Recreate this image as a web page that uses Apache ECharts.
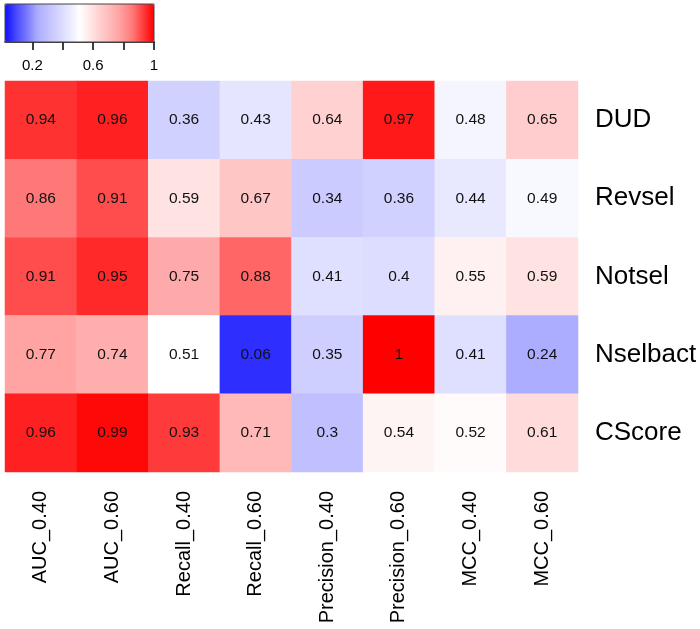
<!DOCTYPE html>
<html>
<head>
<meta charset="utf-8">
<script src="https://cdn.jsdelivr.net/npm/echarts@6/dist/echarts.min.js"></script>
<style>
html,body{margin:0;padding:0;background:#fff;}
#chart{width:700px;height:629px;}
</style>
</head>
<body>
<div id="chart"></div>
<script>
var columns = ['AUC_0.40','AUC_0.60','Recall_0.40','Recall_0.60','Precision_0.40','Precision_0.60','MCC_0.40','MCC_0.60'];
var rows = ['DUD','Revsel','Notsel','Nselbact','CScore'];
var valDUD      = [0.94, 0.96, 0.36, 0.43, 0.64, 0.97, 0.48, 0.65];
var valRevsel   = [0.86, 0.91, 0.59, 0.67, 0.34, 0.36, 0.44, 0.49];
var valNotsel   = [0.91, 0.95, 0.75, 0.88, 0.41, 0.4,  0.55, 0.59];
var valNselbact = [0.77, 0.74, 0.51, 0.06, 0.35, 1,    0.41, 0.24];
var valCScore   = [0.96, 0.99, 0.93, 0.71, 0.3,  0.54, 0.52, 0.61];
var scaleMin = 0.02, scaleMax = 1;
var legendTicks = [0.2, 0.4, 0.6, 0.8, 1];
var legendLabels = [0.2, 0.6, 1];

var rowValues = [valDUD, valRevsel, valNotsel, valNselbact, valCScore];
var data = [];
rowValues.forEach(function (vals, r) {
  vals.forEach(function (v, c) { data.push([c, r, v]); });
});

var colorStops = [
  'rgb(15,15,255)','rgb(70,70,255)','rgb(118,118,255)','rgb(170,170,255)',
  'rgb(192,192,255)','rgb(212,212,255)','rgb(232,232,255)','rgb(255,255,255)',
  'rgb(255,230,230)','rgb(255,205,205)','rgb(255,182,182)','rgb(255,155,155)',
  'rgb(255,120,120)','rgb(255,58,58)','rgb(255,0,0)'
];
var FONT = '"Liberation Sans", Arial, Helvetica, sans-serif';

var chart = echarts.init(document.getElementById('chart'), null, {renderer: 'canvas'});
chart.setOption({
  animation: false,
  backgroundColor: '#fff',
  textStyle: {fontFamily: FONT},
  grid: [
    {left: 5, top: 81, width: 573, height: 391, containLabel: false},
    {left: 5, top: 4, width: 149, height: 38, show: true, borderColor: '#444', borderWidth: 1, backgroundColor: 'transparent', z: 5}
  ],
  xAxis: [
    {
      type: 'category', data: columns, gridIndex: 0, position: 'bottom',
      axisLine: {show: false}, axisTick: {show: false}, splitLine: {show: false},
      axisLabel: {rotate: 90, fontSize: 20, color: '#000', margin: 19, fontFamily: FONT,
                  interval: 0, padding: [0, 0, 13, 0]}
    },
    {
      type: 'value', gridIndex: 1, min: scaleMin, max: scaleMax, position: 'bottom',
      splitLine: {show: false},
      axisLine: {show: true, lineStyle: {color: '#000', width: 1.5}},
      axisTick: {show: true, customValues: legendTicks, length: 8, lineStyle: {color: '#000', width: 1.5}},
      axisLabel: {customValues: legendLabels, fontSize: 15, color: '#000', margin: 16, fontFamily: FONT}
    }
  ],
  yAxis: [
    {
      type: 'category', data: rows, gridIndex: 0, position: 'right', inverse: true,
      axisLine: {show: false}, axisTick: {show: false}, splitLine: {show: false},
      axisLabel: {fontSize: 26, color: '#000', margin: 17, fontFamily: FONT, interval: 0}
    },
    {type: 'value', gridIndex: 1, show: false, min: 0, max: 1}
  ],
  visualMap: {
    type: 'continuous', seriesIndex: 0, dimension: 2,
    min: scaleMin, max: scaleMax, calculable: false, orient: 'horizontal',
    left: 5, top: 4, padding: 0, itemWidth: 38, itemHeight: 149,
    inRange: {color: colorStops}, hoverLink: false, text: null
  },
  series: [{
    type: 'heatmap', xAxisIndex: 0, yAxisIndex: 0, data: data,
    label: {show: true, fontSize: 15.5, color: '#111', fontFamily: FONT},
    itemStyle: {borderWidth: 0},
    emphasis: {disabled: true}
  }]
});
</script>
</body>
</html>
